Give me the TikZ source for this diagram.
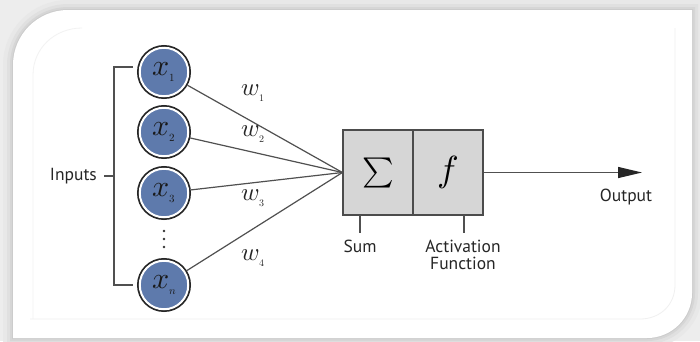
\documentclass[tikz,border=0pt]{standalone}
\usepackage{fontspec}
\usepackage{unicode-math}
\usepackage{graphicx}
\setmainfont{PT Sans}
\setmathfont{Latin Modern Math}
\usetikzlibrary{arrows.meta}
\definecolor{nblue}{RGB}{94,122,172}
\definecolor{linegray}{RGB}{80,80,80}
\definecolor{boxgray}{RGB}{214,214,214}
\newcommand\varlab[3]{$#1$\raisebox{-0.22em}{\fontsize{#3}{#3}\selectfont$#2$}}
\begin{document}
\begin{tikzpicture}[x=1pt,y=-1pt,
  conn/.style={draw=linegray, line width=1.2pt},
  neuron/.style={circle, minimum size=48.5pt, inner sep=0pt, outer sep=2.75pt,
    fill=nblue, draw=white, line width=2pt,
    preaction={draw=black!85, line width=5.5pt},
    font=\fontsize{30}{30}\selectfont, text=black!90},
  wlab/.style={font=\fontsize{25}{25}\selectfont, text=black!85},
  boxst/.style={draw=black!70, fill=boxgray, line width=1.2pt,
    minimum width=70pt, minimum height=85pt, inner sep=0pt},
  lab/.style={font=\fontsize{17.5}{17}\selectfont, text=black!85, align=center, inner sep=0pt}]
\useasboundingbox (0,0) rectangle (700,341);
% background frame
\fill[gray!14] (0,0) rectangle (700,341);
\def\panel{(13,338) -- (13,65) .. controls (13,34.6) and (37.6,10) .. (68,10) -- (692,10) -- (692,293) .. controls (692,317.8) and (671.8,338) .. (647,338) -- cycle}
\draw[gray!18, line width=20pt] \panel;
\draw[gray!24, line width=12pt] \panel;
\draw[gray!32, line width=6pt] \panel;
\draw[gray!40, line width=2pt] \panel;
\fill[white] \panel;
\draw[gray!10, line width=0.8pt] (33,319) -- (33,75) .. controls (33,48) and (55,28) .. (82,28);
\draw[gray!12, line width=0.8pt] (675,28) -- (675,285) .. controls (675,305) and (660,319) .. (640,319) -- (30,319);
% neurons
\node[neuron] (x1) at (164,72) {\varlab{x}{1}{11}};
\node[neuron] (x2) at (164,132) {\varlab{x}{2}{11}};
\node[neuron] (x3) at (164,193) {\varlab{x}{3}{11}};
\node[neuron] (xn) at (164,285) {\varlab{x}{n}{11}};
\foreach \yy in {231,239,247} \fill[black!80] (164,\yy) circle (1.3pt);
% boxes
\node[boxst] (sum) at (378,172.5) {\resizebox*{!}{30pt}{$\sum$}};
\node[boxst] (act) at (448,172.5) {\resizebox*{!}{33pt}{$f$}};
% connectors
\foreach \n in {x1,x2,x3,xn} \draw[conn] (\n) -- (sum.west);
\node[wlab] (w1) at (253,93) {\varlab{w}{1}{10}};
\node[wlab] (w2) at (253,134) {\varlab{w}{2}{10}};
\node[wlab] (w3) at (253,198) {\varlab{w}{3}{10}};
\node[wlab] (w4) at (253,258) {\varlab{w}{4}{10}};
% bracket
\coordinate (btop) at (133,67);
\coordinate (bbot) at (133,285);
\coordinate (bmid) at (114,176);
\draw[conn] (btop) -- (114,67) |- (bbot);
\node[lab, anchor=east] (inputs) at (97,176) {Inputs};
\draw[conn] (bmid) -- ++(-10,0);
% output
\coordinate (outend) at (642,172.5);
\draw[conn, -{Triangle[length=24pt,width=11pt,color=black!85]}] (act.east) -- (outend);
\node[lab] (output) at (626,197) {Output};
% ticks and labels
\coordinate (st) at (360,215);
\coordinate (at) at (464,215);
\draw[conn] (st) -- ++(0,18);
\draw[conn] (at) -- ++(0,18);
\node[lab] (sumlab) at (360,246) {Sum};
\node[lab] (actlab) at (463,255) {Activation\\Function};
\end{tikzpicture}
\end{document}
